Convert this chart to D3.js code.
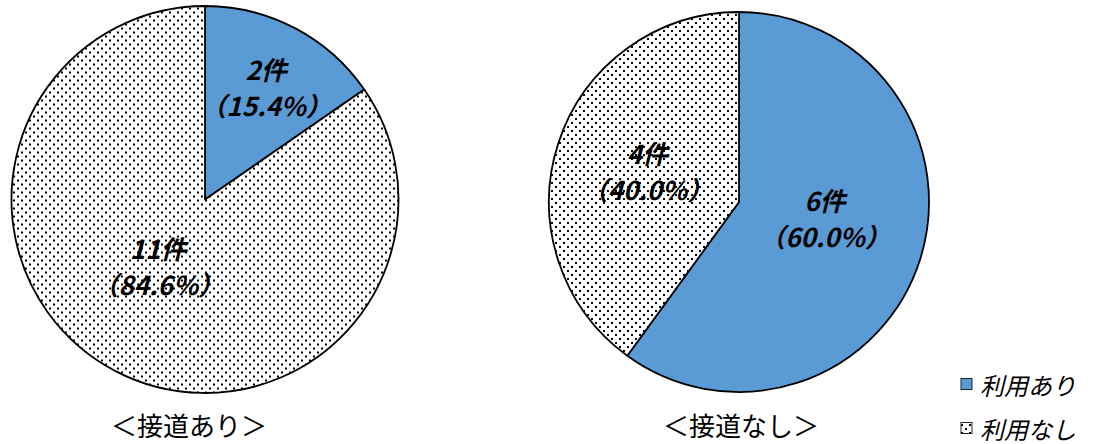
<!DOCTYPE html>
<html>
<head>
<meta charset="utf-8">
<script src="https://cdn.jsdelivr.net/npm/d3@7"></script>
<style>
  html, body { margin: 0; padding: 0; background: #fff; }
  svg { display: block; }
  text { font-family: "Noto Sans CJK JP", "Noto Sans", sans-serif; fill: #000; }
</style>
</head>
<body>
<svg id="chart" width="1098" height="444"></svg>
<script>
// Survey counts: use vs. no use, split by road access
const categories = ["利用あり", "利用なし"];
const pieTitles = ["＜接道あり＞", "＜接道なし＞"];
const countsWithRoad = [2, 11];
const countsWithoutRoad = [6, 4];
const percentWithRoad = [15.4, 84.6];
const percentWithoutRoad = [60.0, 40.0];

const W = 1098, H = 444;
const svg = d3.select("#chart");

// dotted fill used for the "no use" slices
const defs = svg.append("defs");
const pat = defs.append("pattern")
  .attr("id", "dots")
  .attr("patternUnits", "userSpaceOnUse")
  .attr("width", 8).attr("height", 8);
pat.append("rect").attr("width", 8).attr("height", 8).attr("fill", "#fff");
pat.append("rect").attr("x", 0).attr("y", 0).attr("width", 2).attr("height", 2).attr("fill", "#000");
pat.append("rect").attr("x", 4).attr("y", 4).attr("width", 2).attr("height", 2).attr("fill", "#000");

const color = d3.scaleOrdinal().domain(categories).range(["#5B9BD5", "url(#dots)"]);

// layout for each pie: centre, radius and where the value labels sit
const pies = [
  { counts: countsWithRoad, pcts: percentWithRoad, title: pieTitles[0],
    cx: 205, cy: 199.5, r: 193.5, titleX: 189,
    labelPos: [{ rf: 0.666, da: 0.6 }, { rf: 0.42, da: 7.5 }] },
  { counts: countsWithoutRoad, pcts: percentWithoutRoad, title: pieTitles[1],
    cx: 739, cy: 202, r: 190, titleX: 741,
    labelPos: [{ rf: 0.46, da: -7.5 }, { rf: 0.51, da: 1 }] }
];

const pie = d3.pie().sort(null).value(d => d);

pies.forEach(p => {
  const g = svg.append("g").attr("transform", `translate(${p.cx},${p.cy})`);
  const arc = d3.arc().innerRadius(0).outerRadius(p.r);
  const arcs = pie(p.counts);

  g.selectAll("path.slice")
    .data(arcs)
    .join("path")
    .attr("class", "slice")
    .attr("d", arc)
    .attr("fill", (d, i) => color(categories[i]))
    .attr("stroke", "#000")
    .attr("stroke-width", 1.8)
    .attr("stroke-linejoin", "round");

  // value labels: count and share
  arcs.forEach((d, i) => {
    const lp = p.labelPos[i];
    const a = (d.startAngle + d.endAngle) / 2 + lp.da * Math.PI / 180;
    const rr = p.r * lp.rf;
    const x = rr * Math.sin(a), y = -rr * Math.cos(a);
    const t = g.append("text")
      .attr("text-anchor", "middle")
      .attr("font-size", 26)
      .attr("font-weight", "bold")
      .attr("font-style", "italic");
    t.append("tspan").attr("x", x).attr("y", y - 18).attr("dominant-baseline", "central")
      .text(d.data + "件");
    t.append("tspan").attr("x", x).attr("y", y + 18).attr("dominant-baseline", "central")
      .text("（" + p.pcts[i].toFixed(1) + "%）");
  });

  svg.append("text")
    .attr("x", p.titleX)
    .attr("y", 424)
    .attr("text-anchor", "middle")
    .attr("dominant-baseline", "central")
    .attr("font-size", 26)
    .text(p.title);
});

// legend
const legend = svg.append("g").attr("transform", "translate(961,0)");
const legendY = [384, 428];
categories.forEach((c, i) => {
  legend.append("rect")
    .attr("x", 0).attr("y", legendY[i] - 5.5)
    .attr("width", 11).attr("height", 11)
    .attr("fill", color(c))
    .attr("stroke", "#222").attr("stroke-width", 1);
  legend.append("text")
    .attr("x", 19).attr("y", legendY[i])
    .attr("dominant-baseline", "central")
    .attr("font-size", 24)
    .attr("font-style", "italic")
    .text(c);
});
</script>
</body>
</html>
